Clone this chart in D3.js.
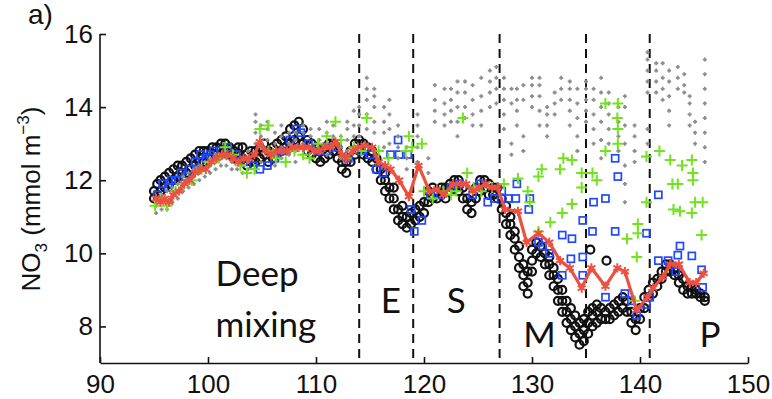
<!DOCTYPE html>
<html>
<head>
<meta charset="utf-8">
<script src="https://cdn.jsdelivr.net/npm/d3@7"></script>
<style>
  body { margin: 0; background: #fff; }
  svg { display: block; }
  .axis path, .axis line { stroke: #111; stroke-width: 1.6px; }
  .axis text { font-family: "Liberation Sans", Arial, sans-serif; font-size: 26px; fill: #111; }
</style>
</head>
<body>
<svg class="main-svg" width="772" height="399"></svg>
<script>
// tick labels
const xTicks = [90, 100, 110, 120, 130, 140, 150]
const yTicks = [8, 10, 12, 14, 16]

// period boundaries (day of year) and labels
const periodBounds = [114, 119, 127, 135, 140.9]
const periodLabels = [
  { text: 'Deep', x: 100.7, y: 9.1 },
  { text: 'mixing', x: 100.7, y: 7.72 },
  { text: 'E', x: 116.0, y: 8.38 },
  { text: 'S', x: 122.1, y: 8.38 },
  { text: 'M', x: 129.2, y: 7.45 },
  { text: 'P', x: 145.5, y: 7.45 }
]

// black circles: [day, [NO3 values]]
const blackCircles = [
  [95.0, [11.5, 11.7]], [95.3, [11.6, 11.9]], [95.6, [11.7, 12.0]], [96.0, [11.8, 12.1]],
  [96.4, [11.9, 12.2]], [96.8, [12.0, 12.3]], [97.2, [12.1, 12.4]], [97.6, [12.2, 12.4]],
  [98.0, [12.2, 12.5]], [98.4, [12.3, 12.6]], [98.8, [12.4, 12.7]], [99.2, [12.5, 12.8]],
  [99.6, [12.5, 12.8]], [100.0, [12.6, 12.8]], [100.4, [12.6, 12.9]], [100.8, [12.7, 12.9]],
  [101.2, [12.7, 13.0]], [101.6, [12.8, 13.0]], [102.0, [12.7, 12.9]], [102.4, [12.6, 12.8]],
  [102.8, [12.7, 12.9]], [103.2, [12.6, 12.9]], [103.6, [12.4, 12.7]], [104.0, [12.5, 12.8]],
  [104.4, [12.5, 12.8]], [104.8, [12.6, 12.9]], [105.2, [12.7, 13.0]], [105.6, [12.5, 12.8]],
  [106.0, [12.6, 12.9]], [106.4, [12.7, 13.0]], [106.8, [12.8, 13.1]], [107.2, [12.9, 13.2]],
  [107.6, [13.0, 13.4]], [108.0, [13.1, 13.5]], [108.4, [13.2, 13.6]], [108.8, [13.0, 13.4]],
  [109.2, [12.8, 13.1]], [109.6, [12.7, 13.0]], [110.0, [12.6, 12.9]], [110.4, [12.5, 12.8]],
  [110.8, [12.6, 12.9]], [111.2, [12.7, 13.0]], [111.6, [12.8, 13.0]], [112.0, [12.6, 12.9]],
  [112.4, [12.3, 12.5]], [112.8, [12.2, 12.5]], [113.2, [12.5, 12.8]], [113.6, [12.7, 13.0]],
  [114.0, [12.8, 13.1]], [114.4, [12.7, 13.0]], [114.8, [12.6, 12.9]], [115.2, [12.5, 12.8]],
  [115.6, [12.3, 12.6]], [116.0, [12.0, 12.3]], [116.4, [11.7, 12.0, 12.2]], [116.8, [11.5, 11.8]],
  [117.2, [11.2, 11.5, 11.8]], [117.6, [10.9, 11.2]], [118.0, [10.8, 11.0, 11.3]], [118.4, [10.7, 11.0]],
  [118.8, [10.8, 11.1]], [119.2, [10.9, 11.2]], [119.6, [11.0, 11.3]], [120.0, [11.1, 11.4]],
  [120.4, [11.4, 11.7]], [120.8, [11.5, 11.8]], [121.2, [11.5, 11.7]], [121.6, [11.6, 11.8]],
  [122.0, [11.5, 11.8]], [122.4, [11.7, 11.9]], [122.8, [11.8, 12.0]], [123.2, [11.7, 12.0]],
  [123.6, [11.5, 11.8]], [124.0, [11.2, 11.5]], [124.4, [11.1, 11.4]], [124.8, [11.5, 11.8]],
  [125.2, [11.7, 12.0]], [125.6, [11.8, 12.0]], [126.0, [11.6, 11.9]], [126.4, [11.6, 11.8]],
  [126.8, [11.5, 11.8]], [127.2, [11.2, 11.5]], [127.6, [10.8, 11.1, 11.3]], [128.0, [10.5, 10.8, 11.0]],
  [128.4, [10.1, 10.4, 10.6]], [128.8, [9.6, 9.9, 10.2]], [129.2, [9.1, 9.4, 9.7]], [129.6, [8.9, 9.2, 9.5]],
  [130.0, [9.5, 9.8, 10.1]], [130.4, [10.0, 10.3]], [130.8, [9.9, 10.2]], [131.2, [9.7, 10.0]],
  [131.6, [9.4, 9.7, 9.9]], [132.0, [9.1, 9.4, 9.6]], [132.4, [8.7, 9.0, 9.3]], [132.8, [8.4, 8.7, 9.0]],
  [133.2, [8.1, 8.4, 8.7]], [133.6, [7.9, 8.2, 8.5]], [134.0, [7.7, 8.0, 8.3]], [134.4, [7.5, 7.8, 8.1]],
  [134.8, [7.6, 7.9, 8.2]], [135.2, [7.8, 8.1, 8.4]], [135.4, [10.1]], [135.6, [8.0, 8.3, 8.5]],
  [136.0, [8.1, 8.4, 8.6]], [136.4, [8.2, 8.5]], [136.8, [8.2, 8.4]], [136.9, [9.8]], [137.2, [8.2, 8.5]],
  [137.6, [8.3, 8.6]], [138.0, [8.4, 8.7]], [138.4, [8.5, 8.8]], [138.8, [8.4, 8.7]], [139.2, [8.1, 8.4]],
  [139.6, [7.9, 8.2]], [140.0, [8.2, 8.5]], [140.4, [8.5, 8.8]], [140.8, [8.8, 9.0]],
  [141.2, [8.9, 9.2]], [141.6, [9.1, 9.3]], [142.0, [9.3, 9.5]], [142.4, [9.5, 9.7]],
  [142.8, [9.5, 9.7]], [143.2, [9.4, 9.6]], [143.6, [9.2, 9.4]], [144.0, [9.0, 9.3]],
  [144.4, [8.9, 9.1]], [144.8, [8.9, 9.1]], [145.2, [8.9, 9.0]], [145.6, [8.8, 8.9]],
  [146.0, [8.7, 8.8]]
]

// blue squares: [day, NO3]
const blueSquares = [
  [95.3, 11.6], [95.8, 11.9], [96.3, 11.8], [96.6, 12.0], [97.0, 12.0], [97.5, 12.2],
  [97.9, 12.1], [98.3, 12.3], [98.8, 12.5], [99.0, 12.3], [99.3, 12.7], [99.8, 12.6],
  [100.2, 12.7], [100.5, 12.8], [101.2, 12.8], [101.8, 12.9], [102.6, 12.7], [103.3, 12.5],
  [104.2, 12.4], [104.8, 12.3], [105.5, 12.4], [106.2, 12.6], [107.0, 12.8], [107.6, 13.1],
  [108.2, 13.4], [108.6, 13.3], [109.3, 13.0], [110.2, 12.8], [111.0, 12.8], [111.8, 12.9],
  [113.0, 12.6], [114.2, 12.8], [115.0, 12.7], [115.6, 12.3],
  [116.2, 12.2], [116.9, 12.7], [117.6, 13.1], [117.7, 12.7], [118.5, 12.7], [118.8, 11.2],
  [119.1, 10.6], [119.8, 10.9], [120.6, 11.6], [121.5, 11.6], [122.5, 11.8], [123.3, 11.9],
  [124.5, 11.6], [125.2, 11.9], [125.9, 11.4], [126.5, 11.5], [127.2, 11.7], [127.8, 11.5],
  [128.6, 11.9], [128.5, 11.5], [129.8, 11.5], [129.7, 11.2], [130.6, 10.3], [131.0, 10.2],
  [131.6, 10.0], [132.8, 10.5], [133.7, 10.4], [132.8, 9.4], [133.6, 9.85], [134.7, 9.9],
  [134.7, 9.4], [134.7, 10.9], [135.7, 11.4], [135.6, 10.6], [136.8, 11.5], [137.7, 12.6],
  [137.95, 12.1], [137.7, 10.6], [136.8, 8.8], [138.6, 8.9], [139.2, 8.7], [139.7, 8.3],
  [140.6, 8.6], [140.9, 8.8], [140.6, 10.55], [141.7, 11.6], [141.7, 9.8], [142.6, 9.8],
  [143.5, 9.95], [143.7, 10.2], [143.3, 9.5], [144.8, 9.93], [145.7, 9.55], [145.8, 9.07]
]

// green plus markers: [day, NO3]
const greenPlus = [
  [95.1, 11.3], [95.6, 11.5], [96.2, 11.3], [97.0, 11.7], [97.8, 11.9], [98.5, 12.0],
  [99.4, 12.3], [100.2, 12.5], [101.0, 12.6], [101.6, 12.9], [102.3, 12.7], [103.0, 12.4],
  [103.6, 12.2], [104.3, 12.3], [104.8, 13.4], [105.6, 13.5], [105.6, 12.8], [106.3, 12.6],
  [107.2, 12.5], [108.0, 12.8], [108.8, 12.7], [109.4, 12.6], [110.2, 13.0], [111.0, 13.2],
  [111.8, 13.6], [112.3, 13.1], [112.8, 12.6], [113.5, 12.9], [114.2, 12.8], [114.7, 13.7],
  [115.8, 12.8], [116.7, 12.6], [118.3, 12.8], [118.6, 13.2], [118.9, 12.9], [119.8, 13.0],
  [120.0, 11.7], [120.8, 11.5], [121.8, 11.7], [122.5, 11.6], [123.0, 11.7], [123.6, 13.7],
  [124.0, 12.2], [124.6, 11.8], [125.3, 11.7], [126.3, 11.8], [127.4, 11.9], [128.7, 12.05],
  [129.6, 11.7], [129.8, 11.4], [130.6, 10.6], [130.9, 12.3], [130.6, 12.1], [131.7, 10.85],
  [132.8, 11.1], [132.6, 12.3], [132.9, 12.6], [133.7, 12.55], [133.7, 11.35], [134.6, 11.8],
  [134.6, 12.2], [135.6, 12.2], [136.0, 12.0], [136.8, 12.8], [136.8, 14.1], [137.95, 14.1],
  [137.9, 13.7], [137.95, 13.4], [137.95, 13.0], [138.8, 10.4], [139.8, 10.8], [139.8, 10.55],
  [139.7, 9.9], [140.6, 11.4], [139.5, 8.7], [140.6, 12.65], [141.8, 12.8], [142.8, 12.55],
  [143.0, 11.9], [143.5, 11.9], [143.1, 11.2], [143.7, 11.15], [143.9, 12.4], [144.8, 12.55],
  [144.9, 12.2], [144.9, 12.0], [144.8, 11.1], [145.1, 11.4], [145.8, 11.4], [145.7, 10.5]
]

// grey small crosses: [day, [NO3 values]]
const greyCross = [
  [95.2, [11.1, 11.3, 11.5]], [95.7, [11.2, 11.4, 11.6]], [96.2, [11.2, 11.4, 11.7]],
  [96.7, [11.4, 11.6, 11.8]], [97.2, [11.5, 11.7, 11.9]], [97.7, [11.7, 11.9, 12.1]],
  [98.2, [11.8, 12.0, 12.2]], [98.7, [11.9, 12.1, 12.3]], [99.2, [12.0, 12.2, 12.4]],
  [99.7, [12.1, 12.3, 12.5]], [100.2, [12.2, 12.4, 12.6]], [100.7, [12.3, 12.5, 12.7]],
  [101.2, [12.4, 12.6]], [101.7, [12.4, 12.6]], [102.2, [12.3, 12.5]], [102.7, [12.3, 12.5]],
  [103.2, [12.2, 12.4]], [103.7, [12.3, 12.5, 12.8]],
  [104.4, [12.7, 13.0, 13.3, 13.6, 13.8]], [104.9, [12.5, 12.9, 13.2, 13.5]],
  [105.5, [12.8, 13.1, 13.4, 13.6]], [106.2, [12.4, 12.7, 13.0, 13.3]],
  [106.8, [12.6, 12.9, 13.2, 13.5]], [107.5, [12.7, 13.0, 13.3]],
  [108.1, [12.5, 12.8, 13.1, 13.3]], [108.8, [12.7, 13.0, 13.3, 13.5]],
  [109.5, [12.6, 12.9, 13.2, 13.4]], [110.3, [12.8, 13.1, 13.4]],
  [111.0, [12.7, 13.0, 13.3, 13.6]], [111.6, [12.9, 13.2, 13.5]],
  [112.3, [12.6, 12.9, 13.2]], [112.9, [12.8, 13.1, 13.4, 13.6]],
  [113.5, [12.9, 13.2, 13.5, 13.9]], [114.0, [13.2, 13.5, 13.8, 14.0]],
  [114.7, [13.4, 13.8, 14.2, 14.5, 14.8]], [115.4, [13.3, 13.6, 14.0, 14.3, 14.5]],
  [116.3, [12.9, 13.3, 13.6, 14.0]], [116.8, [13.0, 13.4, 13.8, 14.2]],
  [117.6, [12.6, 12.9, 13.2, 13.5]], [118.4, [12.3, 12.6, 12.9]],
  [119.4, [12.5, 12.9, 13.2, 13.5, 13.8]], [120.4, [12.2, 12.6]],
  [121.0, [13.6, 13.9, 14.2, 14.6]], [121.9, [13.5, 13.8, 14.1, 14.5]],
  [122.5, [13.6, 13.9, 14.2, 14.5]], [123.1, [13.2, 13.6, 14.0, 14.4, 14.7]],
  [123.8, [13.7, 14.0, 14.4, 14.7]], [124.5, [13.5, 13.8, 14.2, 14.6]],
  [125.3, [13.5, 13.9, 14.3, 14.8]], [126.1, [14.0, 14.4, 14.7, 15.0]],
  [126.7, [14.1, 14.5, 14.8, 15.1]], [127.4, [13.4, 13.8, 14.2, 14.5, 14.8]],
  [128.1, [12.7, 13.0, 14.1, 14.5]], [128.6, [13.5, 13.9, 14.2, 14.5]],
  [129.2, [12.8, 13.2, 14.2, 14.6]], [130.0, [14.0, 14.3, 14.6, 14.8]],
  [130.7, [13.5, 13.9, 14.3, 14.6, 14.8]], [131.4, [13.2, 13.5, 13.8, 14.0]],
  [132.1, [13.8, 14.1, 14.4]], [132.7, [14.2, 14.5, 14.8]],
  [133.5, [13.5, 13.9, 14.2, 14.5, 14.7]], [134.2, [12.8, 13.2, 13.7, 14.1, 14.5]],
  [135.0, [13.6, 13.9, 14.2, 14.5, 14.7]], [135.7, [13.0, 13.4, 13.8, 14.2, 14.5]],
  [136.4, [12.6, 13.1, 13.6, 14.0, 14.4, 14.8]], [137.1, [13.0, 13.4, 13.8, 14.1, 14.4]],
  [138.0, [12.8, 13.2, 13.6, 14.0]], [138.6, [11.4, 11.9, 12.4, 13.0, 13.5, 14.0, 14.3]],
  [139.5, [12.5, 12.8, 13.2, 13.5]], [140.7, [13.0, 13.4, 14.4, 14.7, 15.0, 15.3, 15.5]],
  [141.5, [14.4, 14.7, 15.0, 15.2]], [142.1, [14.2, 14.5, 14.8, 15.2]],
  [142.7, [13.5, 13.9, 14.3, 14.7, 15.0]], [143.5, [14.5, 14.8, 15.1]],
  [144.1, [14.4, 14.6, 14.9]], [144.6, [13.5, 13.8, 14.1, 14.3]],
  [145.1, [13.0, 13.3, 13.6]], [146.0, [12.5, 12.9, 13.3, 13.7, 14.1, 14.5, 14.9, 15.3]]
]

// red line with stars: [day, NO3]
const redLine = [
  [95.2, 11.5], [95.6, 11.4], [96.0, 11.5], [96.4, 11.4], [96.8, 11.6], [97.3, 11.7],
  [97.8, 11.9], [98.3, 12.0], [98.8, 12.2], [99.3, 12.3], [99.8, 12.3], [100.3, 12.5],
  [100.8, 12.6], [101.3, 12.7], [101.8, 12.7], [102.3, 12.6], [102.8, 12.5], [103.3, 12.6],
  [103.8, 12.6], [104.3, 12.7], [104.8, 13.05], [105.3, 12.8], [105.8, 12.7], [106.3, 12.8],
  [106.8, 12.8], [107.3, 12.8], [107.8, 12.9], [108.3, 12.9], [108.8, 12.9], [109.3, 12.9],
  [109.8, 12.8], [110.3, 12.8], [110.8, 12.9], [111.3, 12.9], [111.8, 13.05], [112.4, 12.7],
  [112.8, 12.6], [113.4, 12.8], [113.9, 12.9], [114.5, 12.95], [115.2, 12.9], [115.8, 12.5],
  [116.4, 12.4], [116.9, 12.3], [117.7, 12.0], [118.6, 11.55], [119.5, 12.4], [120.5, 11.7],
  [121.2, 11.75], [121.8, 11.6], [122.7, 11.9], [123.4, 11.9], [123.9, 11.9], [124.5, 11.7],
  [125.1, 11.8], [125.7, 11.9], [126.3, 11.8], [126.8, 11.8], [127.5, 11.2], [128.7, 11.15],
  [129.5, 10.3], [130.6, 10.55], [131.6, 10.3], [132.6, 9.8], [133.5, 9.6], [134.6, 9.05],
  [135.5, 9.6], [136.8, 9.1], [137.9, 9.6], [138.6, 9.5], [139.7, 8.45], [140.7, 8.8],
  [141.2, 9.05], [142.1, 9.35], [142.8, 9.7], [143.6, 9.7], [144.6, 9.2], [145.2, 9.2],
  [145.9, 9.45]
]

const svg = d3.select('.main-svg')
const x = d3.scaleLinear().domain([90, 150]).range([100, 748])
const y = d3.scaleLinear().domain([7, 16]).range([363, 34])

/**
 * Draws the two axes, ticks pointing into the plot.
 */
function drawAxes () {
  svg.append('g')
    .attr('class', 'x axis')
    .attr('transform', `translate(0,${y(7)})`)
    .call(d3.axisBottom(x).tickValues(xTicks).tickSizeInner(-6).tickSizeOuter(0).tickPadding(12))

  svg.append('g')
    .attr('class', 'y axis')
    .attr('transform', `translate(${x(90)},0)`)
    .call(d3.axisLeft(y).tickValues(yTicks).tickSizeInner(-6).tickSizeOuter(0).tickPadding(7))

  // the axis line has to reach 16 at the top
  svg.select('.y.axis .domain').attr('d', `M0,${y(16)}V${y(7)}`)

  svg.append('text')
    .attr('transform', 'translate(40,199) rotate(-90)')
    .attr('text-anchor', 'middle')
    .style('font-family', '"Liberation Sans", Arial, sans-serif')
    .style('font-size', '26px')
    .attr('fill', '#111')
    .call(t => {
      t.append('tspan').text('NO')
      t.append('tspan').attr('dy', 7).style('font-size', '17px').text('3')
      t.append('tspan').attr('dy', -7).text(' (mmol m')
      t.append('tspan').attr('dy', -11).style('font-size', '17px').text('\u22123')
      t.append('tspan').attr('dy', 11).text(')')
    })

  svg.append('text')
    .attr('x', 28)
    .attr('y', 24)
    .style('font-family', '"Liberation Sans", Arial, sans-serif')
    .style('font-size', '28px')
    .attr('fill', '#111')
    .text('a)')
}

/**
 * Draws the vertical dashed lines between the periods and their labels.
 */
function drawPeriods () {
  svg.append('g')
    .selectAll('line')
    .data(periodBounds)
    .enter()
    .append('line')
    .attr('x1', d => x(d))
    .attr('x2', d => x(d))
    .attr('y1', y(16))
    .attr('y2', y(7))
    .attr('stroke', '#111')
    .attr('stroke-width', 2)
    .attr('stroke-dasharray', '9,6')

  svg.append('g')
    .selectAll('text')
    .data(periodLabels)
    .enter()
    .append('text')
    .attr('x', d => x(d.x))
    .attr('y', d => y(d.y))
    .style('font-family', 'Lato, "Open Sans", sans-serif')
    .style('font-size', '35px')
    .attr('fill', '#111')
    .text(d => d.text)
}

/**
 * Draws every series, from the bottom layer to the top one.
 */
function drawSeries () {
  const flat = cols => cols.flatMap(([d, vals]) => vals.map(v => [d, v]))

  svg.append('g')
    .selectAll('circle')
    .data(flat(blackCircles))
    .enter()
    .append('circle')
    .attr('cx', d => x(d[0]))
    .attr('cy', d => y(d[1]))
    .attr('r', 4)
    .attr('fill', 'none')
    .attr('stroke', '#111')
    .attr('stroke-width', 2.2)

  svg.append('g')
    .selectAll('rect')
    .data(blueSquares)
    .enter()
    .append('rect')
    .attr('x', d => x(d[0]) - 3.5)
    .attr('y', d => y(d[1]) - 3.5)
    .attr('width', 7)
    .attr('height', 7)
    .attr('fill', 'none')
    .attr('stroke', '#2147ff')
    .attr('stroke-width', 1.7)

  svg.append('g')
    .selectAll('path')
    .data(flat(greyCross))
    .enter()
    .append('path')
    .attr('d', d => `M${x(d[0]) - 2},${y(d[1])}h4M${x(d[0])},${y(d[1]) - 2}v4`)
    .attr('stroke', '#8c8c8c')
    .attr('stroke-width', 1.8)

  svg.append('g')
    .selectAll('path')
    .data(greenPlus)
    .enter()
    .append('path')
    .attr('d', d => `M${x(d[0]) - 5.5},${y(d[1])}h11M${x(d[0])},${y(d[1]) - 5.5}v11`)
    .attr('stroke', '#72e21e')
    .attr('stroke-width', 2)

  const line = d3.line().x(d => x(d[0])).y(d => y(d[1]))
  svg.append('path')
    .datum(redLine)
    .attr('d', line)
    .attr('fill', 'none')
    .attr('stroke', '#ec5040')
    .attr('stroke-width', 3.2)
    .attr('stroke-linejoin', 'round')

  const star = d3.symbol().type(d3.symbolAsterisk || d3.symbolCross).size(60)
  svg.append('g')
    .selectAll('path')
    .data(redLine)
    .enter()
    .append('path')
    .attr('transform', d => `translate(${x(d[0])},${y(d[1])})`)
    .attr('d', star)
    .attr('fill', 'none')
    .attr('stroke', '#ec5040')
    .attr('stroke-width', 2)
}

drawPeriods()
drawSeries()
drawAxes()
</script>
</body>
</html>
